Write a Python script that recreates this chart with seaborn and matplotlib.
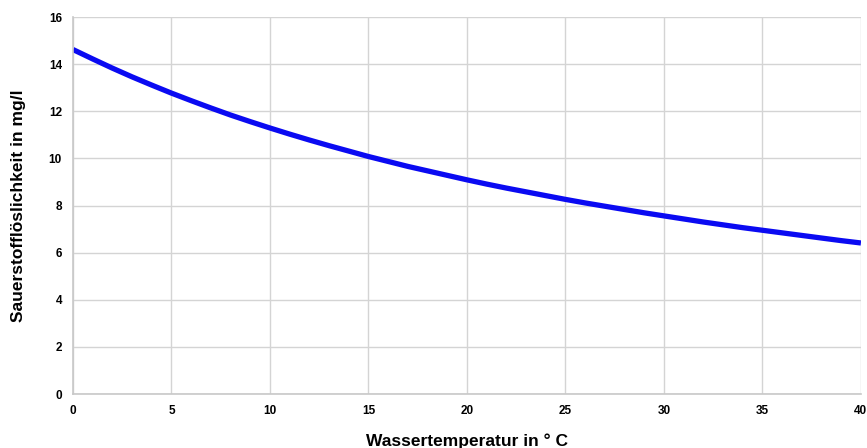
import matplotlib
matplotlib.use("Agg")

import matplotlib.pyplot as plt
import pandas as pd
import seaborn as sns

# Oxygen solubility in water vs. temperature
temperature = list(range(0, 41))
solubility = [14.62, 14.22, 13.83, 13.46, 13.11, 12.77, 12.45, 12.14, 11.84, 11.56,
              11.29, 11.03, 10.78, 10.54, 10.31, 10.08, 9.87, 9.66, 9.47, 9.28,
              9.09, 8.91, 8.74, 8.58, 8.42, 8.26, 8.11, 7.97, 7.83, 7.69,
              7.56, 7.43, 7.30, 7.18, 7.06, 6.95, 6.84, 6.73, 6.62, 6.51, 6.41]
x_ticks = [0, 5, 10, 15, 20, 25, 30, 35, 40]
y_ticks = [0, 2, 4, 6, 8, 10, 12, 14, 16]

df = pd.DataFrame({"temp": temperature, "o2": solubility})

sns.set_style("whitegrid")
plt.rcParams["font.family"] = ["Liberation Sans", "DejaVu Sans"]
plt.rcParams["text.color"] = "black"
plt.rcParams["axes.labelcolor"] = "black"
plt.rcParams["xtick.color"] = "black"
plt.rcParams["ytick.color"] = "black"

fig = plt.figure(figsize=(8.67, 4.48), dpi=100)
ax = fig.add_axes([0.0842, 0.1205, 0.9088, 0.8415])

sns.lineplot(data=df, x="temp", y="o2", ax=ax, color="#0a0af2",
             linewidth=3.8, solid_capstyle="butt", solid_joinstyle="round")

ax.set_xlim(0, 40)
ax.set_ylim(0, 16)
ax.set_xticks(x_ticks)
ax.set_yticks(y_ticks)
ax.grid(True, color="#d4d4d4", linewidth=1.0)
for side in ["top", "right"]:
    ax.spines[side].set_visible(False)
for side in ["left", "bottom"]:
    ax.spines[side].set_color("#c8c8c8")
    ax.spines[side].set_linewidth(1.2)

ax.tick_params(axis="both", length=0, labelsize=8.5, pad=8)
for lbl in ax.get_xticklabels() + ax.get_yticklabels():
    lbl.set_fontweight("bold")

ax.set_xlabel("Wassertemperatur in ° C", fontsize=12.5, fontweight="bold",
              labelpad=12)
ax.set_ylabel("Sauerstofflöslichkeit in mg/l", fontsize=12.5,
              fontweight="bold", labelpad=16)

fig.savefig("out.png", dpi=100)
plt.close(fig)
